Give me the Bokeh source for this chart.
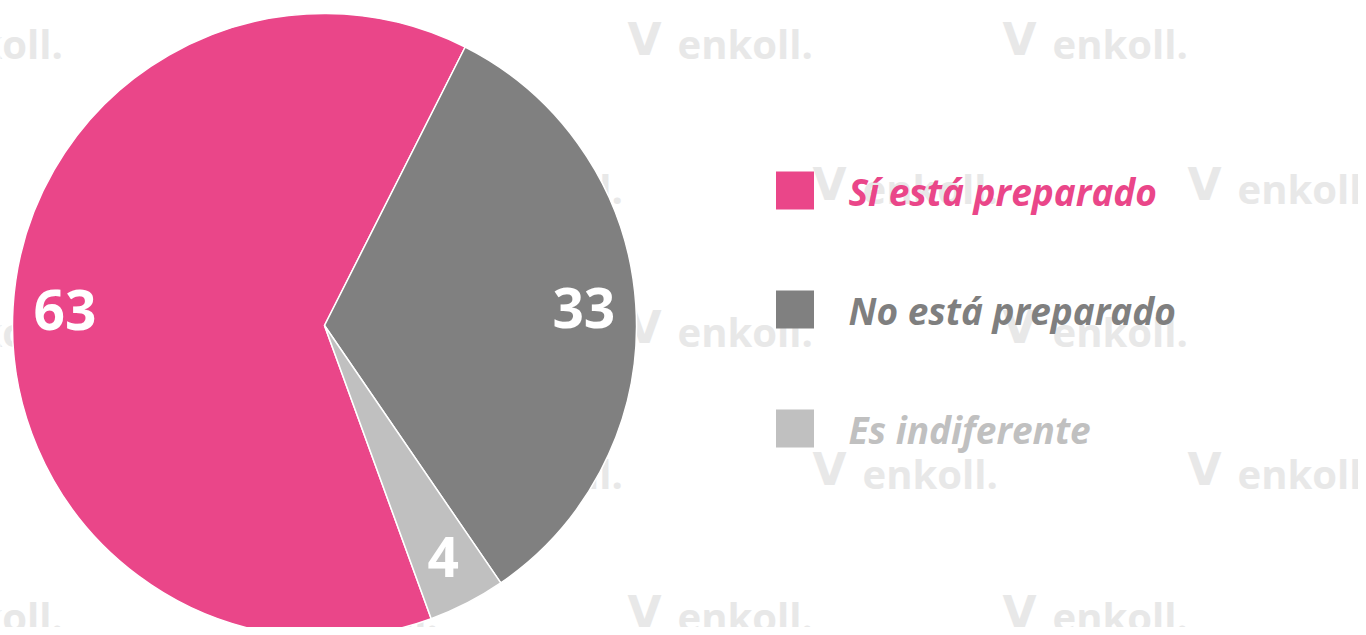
import numpy as np
from bokeh.plotting import figure
from bokeh.models import Range1d, ColumnDataSource
from bokeh.core.properties import value
from bokeh.embed import file_html
from bokeh.resources import INLINE

categories = ["Sí está preparado", "No está preparado", "Es indiferente"]
values = [63, 33, 4]
colors = ["#EA4689", "#808080", "#C0C0C0"]
label_colors = ["#EA4689", "#7F7F7F", "#C0C0C0"]

W, H = 1358, 627
OY = 627  # data y = OY - screen y
p = figure(width=W, height=H, x_range=Range1d(0, W), y_range=Range1d(0, H),
           output_backend="svg", toolbar_location=None, min_border=0,
           background_fill_color="white", border_fill_color="white")
p.axis.visible = False
p.grid.visible = False
p.outline_line_color = None

# watermarks
wm_rows_a = [43, 331, 616]
wm_rows_b = [188, 473]
wm_x_a = [-73, 302, 677, 1052]
wm_x_b = [112, 487, 862, 1237]
wx, wy, ix = [], [], []
for r in wm_rows_a:
    for x in wm_x_a:
        wx.append(x); wy.append(OY - r); ix.append(x - 50)
for r in wm_rows_b:
    for x in wm_x_b:
        wx.append(x); wy.append(OY - r); ix.append(x - 50)
p.text(x=wx, y=wy, text=["enkoll."] * len(wx), text_font=value("Open Sans"),
       text_font_style="bold", text_font_size="40px", text_color="#E8E8E8",
       text_baseline="middle", text_align="left")
p.text(x=ix, y=[y + 4 for y in wy], text=["V"] * len(ix), text_font=value("DejaVu Sans"),
       text_font_style="bold", text_font_size="44px", text_color="#E8E8E8",
       text_baseline="middle", text_align="left")

# pie
cx, cy, R = 324, OY - 325, 312
start_cw = 160.0  # clockwise from top, degrees
fr = np.array(values, dtype=float) / sum(values)
cum = np.concatenate([[0], np.cumsum(fr)]) * 360.0
theta_s = start_cw + cum[:-1]
theta_e = start_cw + cum[1:]
start = np.deg2rad(90 - theta_s)
end = np.deg2rad(90 - theta_e)
src = ColumnDataSource(dict(start=start, end=end, color=colors))
p.wedge(x=cx, y=cy, radius=R, start_angle="start", end_angle="end",
        direction="clock", fill_color="color", line_color="white",
        line_width=1.5, source=src)

mid = np.deg2rad(90 - (theta_s + theta_e) / 2)
lr = 0.833 * R
p.text(x=cx + lr * np.cos(mid), y=cy + lr * np.sin(mid),
       text=[str(v) for v in values], text_font=value("Open Sans"),
       text_font_style="bold", text_font_size="55px", text_color="white",
       text_align="center", text_baseline="middle")

# legend
ly = [OY - 190, OY - 309, OY - 428]
p.rect(x=[794.5] * 3, y=ly, width=38, height=38, fill_color=colors, line_color=None)
p.text(x=[848] * 3, y=[y - 1 for y in ly], text=categories, text_font=value("Open Sans"),
       text_font_style="bold italic", text_font_size="37px", text_color=label_colors,
       text_align="left", text_baseline="middle")

open("out.html", "w").write(file_html(p, INLINE))
